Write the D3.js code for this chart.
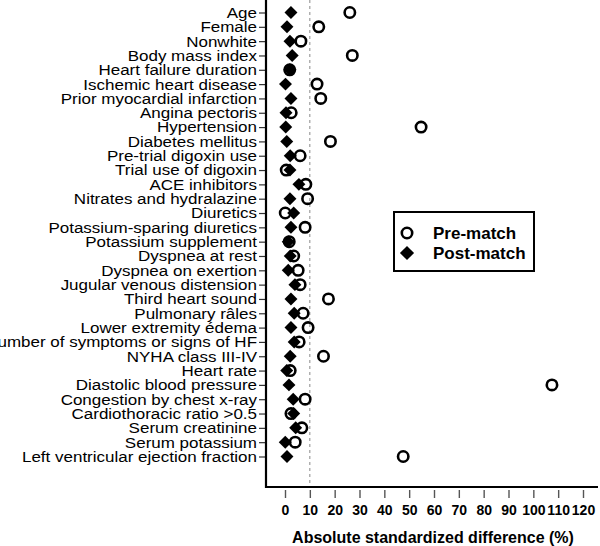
<!DOCTYPE html>
<html>
<head>
<meta charset="utf-8">
<script src="https://cdn.jsdelivr.net/npm/d3@7"></script>
<style>
  body { margin: 0; background: #fff; }
  svg { display: block; font-family: "Liberation Sans", Arial, sans-serif; }
</style>
</head>
<body>
<div id="chart"></div>
<script>
// covariates, top to bottom
const variables = [
  "Age", "Female", "Nonwhite", "Body mass index", "Heart failure duration",
  "Ischemic heart disease", "Prior myocardial infarction", "Angina pectoris",
  "Hypertension", "Diabetes mellitus", "Pre-trial digoxin use", "Trial use of digoxin",
  "ACE inhibitors", "Nitrates and hydralazine", "Diuretics", "Potassium-sparing diuretics",
  "Potassium supplement", "Dyspnea at rest", "Dyspnea on exertion", "Jugular venous distension",
  "Third heart sound", "Pulmonary râles", "Lower extremity édema",
  "Number of symptoms or signs of HF", "NYHA class III-IV", "Heart rate",
  "Diastolic blood pressure", "Congestion by chest x-ray", "Cardiothoracic ratio >0.5",
  "Serum creatinine", "Serum potassium", "Left ventricular ejection fraction"
];
// absolute standardized difference (%)
const preMatch = [
  26.1, 13.6, 6.4, 27.1, 1.9, 12.9, 14.4, 2.5, 54.8, 18.3, 6.1, 0.5,
  8.4, 9.1, 0.1, 8.1, 1.7, 3.5, 5.3, 6.1, 17.5, 7.3, 9.3, 5.7, 15.5, 2.1,
  107.5, 8.1, 2.4, 6.8, 4.1, 47.6
];
const postMatch = [
  2.4, 0.8, 2.0, 2.9, 2.0, 0.2, 2.4, 0.4, 0.3, 0.7, 2.1, 2.0,
  5.6, 2.0, 3.5, 2.4, 1.3, 2.1, 1.3, 4.0, 2.4, 3.7, 2.4, 3.7, 2.1, 0.7,
  1.6, 3.3, 3.5, 4.3, 0.1, 0.8
];
const xTicks = [0, 10, 20, 30, 40, 50, 60, 70, 80, 90, 100, 110, 120];
const threshold = 10;

const W = 600, H = 546;
const svg = d3.select('#chart').append('svg')
  .attr('width', W).attr('height', H);

const x = d3.scaleLinear().domain([0, 120]).range([285, 583]);
const y = d3.scalePoint().domain(variables).range([12.5, 456.5]);

const frameLeft = 266, frameBottom = 487;

// y axis (labels + small ticks)
const yAxis = svg.append('g')
  .attr('transform', `translate(${frameLeft},0)`)
  .call(d3.axisLeft(y).tickSize(7).tickPadding(2));
yAxis.select('.domain').remove();
yAxis.selectAll('line').attr('stroke', '#333').attr('stroke-width', 1.2);
yAxis.selectAll('text')
  .attr('fill', '#000')
  .attr('transform', 'scale(1,0.9)')
  .style('font-size', '17px')
  .style('font-family', '"Liberation Sans", Arial, sans-serif');

// x axis, detached below the frame
const xAxis = svg.append('g')
  .attr('transform', `translate(0,490)`)
  .call(d3.axisBottom(x).tickValues(xTicks).tickSize(8).tickPadding(7));
xAxis.select('.domain').remove();
xAxis.selectAll('line').attr('stroke', '#555').attr('stroke-width', 1.4);
xAxis.selectAll('text')
  .attr('fill', '#000')
  .style('font-size', '14px')
  .style('font-weight', 'bold')
  .style('font-family', '"Liberation Sans", Arial, sans-serif');

// frame: left and bottom lines
svg.append('path')
  .attr('d', `M${frameLeft},0V${frameBottom}H598`)
  .attr('fill', 'none').attr('stroke', '#000').attr('stroke-width', 2.2);

// reference line at 10%
svg.append('line')
  .attr('x1', x(threshold)).attr('x2', x(threshold))
  .attr('y1', 0).attr('y2', frameBottom - 1)
  .attr('stroke', '#888').attr('stroke-width', 1)
  .attr('stroke-dasharray', '3,3');

const diamond = d3.symbol().type(d3.symbolSquare).size(84);

// post-match diamonds
svg.append('g').selectAll('path')
  .data(postMatch)
  .join('path')
  .attr('d', diamond)
  .attr('transform', (d, i) => `translate(${x(d)},${y(variables[i])}) rotate(45)`)
  .attr('fill', '#000');

// pre-match circles
svg.append('g').selectAll('circle')
  .data(preMatch)
  .join('circle')
  .attr('cx', d => x(d))
  .attr('cy', (d, i) => y(variables[i]))
  .attr('r', 5.2)
  .attr('fill', 'none')
  .attr('stroke', '#000')
  .attr('stroke-width', 2.6);

// axis title
svg.append('text')
  .attr('x', 433).attr('y', 543)
  .attr('text-anchor', 'middle')
  .style('font-size', '16px').style('font-weight', 'bold')
  .text('Absolute standardized difference (%)');

// legend
const lg = svg.append('g').attr('transform', 'translate(394,212)');
lg.append('rect')
  .attr('width', 140).attr('height', 59)
  .attr('fill', '#fff').attr('stroke', '#000').attr('stroke-width', 2);
lg.append('circle')
  .attr('cx', 13).attr('cy', 21).attr('r', 5.2)
  .attr('fill', 'none').attr('stroke', '#000').attr('stroke-width', 2.6);
lg.append('path')
  .attr('d', d3.symbol().type(d3.symbolSquare).size(100))
  .attr('transform', 'translate(13,41) rotate(45)')
  .attr('fill', '#000');
lg.selectAll('text.lbl')
  .data(['Pre-match', 'Post-match'])
  .join('text')
  .attr('class', 'lbl')
  .attr('x', 39)
  .attr('y', (d, i) => 27 + i * 20)
  .style('font-size', '17px').style('font-weight', 'bold')
  .text(d => d);
</script>
</body>
</html>
